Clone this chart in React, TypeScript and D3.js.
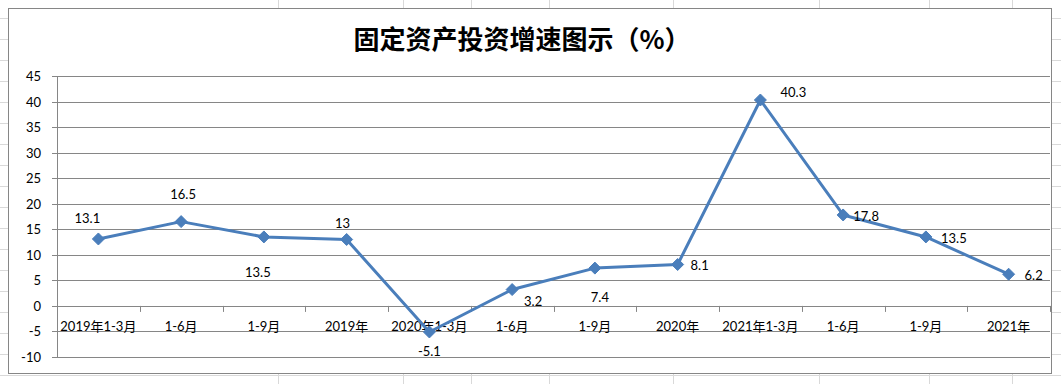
import React from "react";
import * as d3 from "d3";

const title = "固定资产投资增速图示（%）";
const categories = [
  "2019年1-3月", "1-6月", "1-9月", "2019年",
  "2020年1-3月", "1-6月", "1-9月", "2020年",
  "2021年1-3月", "1-6月", "1-9月", "2021年",
];
const growth = [13.1, 16.5, 13.5, 13, -5.1, 3.2, 7.4, 8.1, 40.3, 17.8, 13.5, 6.2];
const yTicks = [-10, -5, 0, 5, 10, 15, 20, 25, 30, 35, 40, 45];
// label offsets relative to marker (dx, dy of text centre)
const labelOffsets: [number, number][] = [
  [-11, -21], [2, -28], [-6, 35], [-4, -16], [0, 19], [21, 11],
  [5, 29], [22, 0], [33, -8], [23, 1], [28, 1], [25, 1],
];
const sheetCols = [278, 403, 471, 549, 673, 819, 929, 1012];

const W = 1061;
const H = 384;
const plot = { left: 57, right: 1050, top: 76, bottom: 357 };

export default function App() {
  const x = d3.scaleBand<string>()
    .domain(categories.map((_, i) => String(i)))
    .range([plot.left, plot.right]);
  const y = d3.scaleLinear().domain([-10, 45]).range([plot.bottom, plot.top]);
  const cx = (i: number) => (x(String(i)) as number) + x.bandwidth() / 2;
  const line = d3.line<number>().x((_, i) => cx(i)).y((d) => y(d));
  const font = "Lato, 'Noto Sans CJK SC', sans-serif";
  const gridGray = "#868686";
  const rows = d3.range(0, 18).map((k) => 18 + 21 * k);
  const boundaries = d3.range(0, categories.length + 1).map((k) => plot.left + k * x.step());

  return (
    <svg
      width={W}
      height={H}
      style={{ position: "fixed", left: 0, top: 0, background: "#fff" }}
    >
      {/* spreadsheet grid behind chart */}
      {rows.map((r) => (
        <line key={"r" + r} x1={0} x2={W} y1={r + 0.5} y2={r + 0.5} stroke="#d9d9d9" />
      ))}
      {sheetCols.map((c) => (
        <line key={"c" + c} x1={c + 0.5} x2={c + 0.5} y1={0} y2={H} stroke="#d9d9d9" />
      ))}
      <rect x={8.5} y={8.5} width={1043} height={365} fill="#fff" stroke={gridGray} />

      <text
        x={522}
        y={37}
        textAnchor="middle"
        dominantBaseline="central"
        fontFamily="'Noto Sans CJK SC', sans-serif"
        fontWeight="bold"
        fontSize={26}
        fill="#000"
      >
        {title}
      </text>

      {/* horizontal gridlines + y tick labels */}
      {yTicks.map((t) => (
        <g key={"y" + t}>
          <line
            x1={plot.left - 5}
            x2={plot.right}
            y1={Math.round(y(t)) + 0.5}
            y2={Math.round(y(t)) + 0.5}
            stroke={gridGray}
          />
          <text
            x={41}
            y={y(t)}
            textAnchor="end"
            dominantBaseline="central"
            fontFamily={font}
            fontSize={13}
            fill="#000"
          >
            {t}
          </text>
        </g>
      ))}
      <line x1={plot.left + 0.5} x2={plot.left + 0.5} y1={plot.top} y2={plot.bottom} stroke={gridGray} />

      {/* category axis at zero */}
      {boundaries.map((b, k) => (
        <line
          key={"t" + k}
          x1={Math.round(b) + 0.5}
          x2={Math.round(b) + 0.5}
          y1={y(0)}
          y2={y(0) + 6}
          stroke={gridGray}
        />
      ))}
      {categories.map((c, i) => (
        <text
          key={"c" + i}
          x={cx(i)}
          y={331}
          textAnchor="middle"
          fontFamily={font}
          fontSize={13}
          fill="#000"
        >
          {c}
        </text>
      ))}

      <path d={line(growth) as string} fill="none" stroke="#4a7ebb" strokeWidth={3} strokeLinejoin="round" />
      {growth.map((v, i) => (
        <path
          key={"m" + i}
          d="M0,-6L6,0L0,6L-6,0Z"
          transform={`translate(${cx(i)},${y(v)})`}
          fill="#4a7ebb"
          stroke="#4a7ebb"
          strokeWidth={1}
        />
      ))}
      {growth.map((v, i) => (
        <text
          key={"l" + i}
          x={cx(i) + labelOffsets[i][0]}
          y={y(v) + labelOffsets[i][1]}
          textAnchor="middle"
          dominantBaseline="central"
          fontFamily={font}
          fontSize={13}
          fill="#000"
        >
          {v}
        </text>
      ))}
    </svg>
  );
}
